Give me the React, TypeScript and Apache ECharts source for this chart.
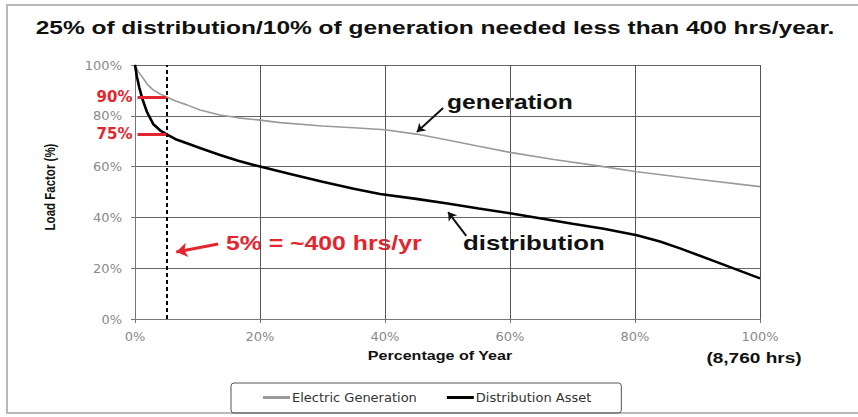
import React, { useEffect, useRef } from "react";
import * as echarts from "echarts";

// ---- data ----
const xTicks = [0, 20, 40, 60, 80, 100];
const yTicks = [0, 20, 40, 60, 80, 100];

const genX = [0, 0.5, 1.3, 2, 2.9, 4, 5, 6.5, 8.3, 10.4, 13.6, 16.5, 20, 23.2, 30, 35, 40, 45, 50, 55, 60, 67, 74.4, 80.3, 90, 100];
const genY = [100, 97.5, 94.8, 92.3, 90.2, 88.6, 87.5, 85.8, 84.3, 82.3, 80.3, 79.2, 78.3, 77.3, 76, 75.3, 74.5, 72.8, 70.5, 68, 65.6, 62.8, 60.2, 58, 55, 52.1];

const distX = [0, 0.3, 0.7, 1.2, 1.9, 2.9, 4, 5, 6.5, 8.3, 10.5, 13.6, 16.5, 20, 25, 30, 35, 39.2, 45, 50, 55, 60, 65, 70, 75, 80.3, 84, 87.2, 93, 100];
const distY = [100, 95.5, 91, 86.5, 81.6, 76.8, 74.3, 72.8, 70.8, 69.2, 67.2, 64.6, 62.3, 60, 57, 54, 51.3, 49.2, 47.3, 45.5, 43.5, 41.6, 39.6, 37.5, 35.5, 33, 30.5, 27.8, 22.5, 16];

const seriesNames = ["Electric Generation", "Distribution Asset"];

const markerX = 5; // 5% of year ~ 400 hrs
const genAt5 = 87.5;
const distAt5 = 72.8;
const genLabel = "90%";
const distLabel = "75%";

// arrows [fromX, fromY, toX, toY] in data units
const genArrow = [49.3, 83.1, 45.1, 73.6];
const distArrow = [53, 32.7, 50.1, 42.1];
const redArrow = [13.3, 29.5, 6.6, 26.4];

const title = "25% of distribution/10% of generation needed less than 400 hrs/year.";

const RED = "#e3262e";
const GRAY = "#9a9a9a";
const SANS = "'Liberation Sans', Arial, sans-serif";
const DEJAVU = "'DejaVu Sans', sans-serif";

function txt(text: string, x: number, y: number, size: number, sx: number, opts: any = {}) {
  return {
    type: "text",
    x,
    y,
    scaleX: sx,
    scaleY: opts.scaleY || 1,
    rotation: opts.rotation || 0,
    style: {
      text,
      fontSize: size,
      fontWeight: opts.weight || "bold",
      fontFamily: SANS,
      fill: opts.color || "#111",
      align: opts.align || "left",
      textAlign: opts.align || "left",
      verticalAlign: "middle",
      textVerticalAlign: "middle",
    },
    silent: true,
  };
}

function redLabel(text: string) {
  return {
    show: true,
    position: "start",
    formatter: text,
    color: RED,
    fontSize: 15,
    fontWeight: "bold",
    fontFamily: DEJAVU,
    distance: 5,
  };
}

export default function App() {
  const ref = useRef<HTMLDivElement>(null);

  useEffect(() => {
    if (!ref.current) return;
    const chart = echarts.init(ref.current, undefined, { renderer: "svg" });

    const gen = genX.map((x, i) => [x, genY[i]]);
    const dist = distX.map((x, i) => [x, distY[i]]);

    const option: any = {
      animation: false,
      backgroundColor: "#fff",
      grid: { left: 135, right: 98, top: 65, bottom: 98 },
      xAxis: {
        type: "value",
        min: 0,
        max: 100,
        interval: 20,
        axisLine: { show: true, lineStyle: { color: "#777", width: 1 } },
        axisTick: { show: true, length: 4, lineStyle: { color: "#777" } },
        axisLabel: {
          formatter: "{value}%",
          color: "#8a8a8a",
          fontSize: 13,
          fontFamily: DEJAVU,
          margin: 11,
          customValues: xTicks,
        },
        splitLine: { show: true, lineStyle: { color: "#555", width: 1 } },
      },
      yAxis: {
        type: "value",
        min: 0,
        max: 100,
        interval: 20,
        axisLine: { show: true, lineStyle: { color: "#777", width: 1 } },
        axisTick: { show: true, length: 4, lineStyle: { color: "#777" } },
        axisLabel: {
          formatter: "{value}%",
          color: "#8a8a8a",
          fontSize: 13,
          fontFamily: DEJAVU,
          margin: 13,
          customValues: yTicks,
        },
        splitLine: { show: true, lineStyle: { color: "#666", width: 1 } },
      },
      legend: {
        data: [
          { name: seriesNames[0], icon: "rect", itemStyle: { color: GRAY } },
          { name: seriesNames[1], icon: "rect", itemStyle: { color: "#000" } },
        ],
        left: 231,
        top: 383,
        orient: "horizontal",
        itemWidth: 27,
        itemHeight: 3,
        itemGap: 30,
        padding: [7, 30, 8, 32],
        borderColor: "#555",
        borderWidth: 1,
        borderRadius: 3,
        textStyle: { color: "#333", fontSize: 13, fontFamily: DEJAVU, padding: [0, 0, 0, -3], lineHeight: 15 },
      },
      series: [
        {
          name: seriesNames[0],
          type: "line",
          data: gen,
          smooth: false,
          showSymbol: false,
          symbol: "none",
          lineStyle: { color: GRAY, width: 1.6 },
          itemStyle: { color: GRAY },
          z: 3,
          markLine: {
            silent: true,
            symbol: ["none", "none"],
            animation: false,
            data: [
              [
                {
                  coord: [markerX, 0],
                  lineStyle: { color: "#000", width: 2, type: [4, 3] },
                  label: { show: false },
                },
                { coord: [markerX, 100] },
              ],
              [
                { coord: [0.4, genAt5], lineStyle: { color: RED, width: 3, type: "solid" }, label: redLabel(genLabel) },
                { coord: [markerX, genAt5] },
              ],
              [
                { coord: [0.4, distAt5], lineStyle: { color: RED, width: 3, type: "solid" }, label: redLabel(distLabel) },
                { coord: [markerX, distAt5] },
              ],
            ],
          },
        },
        {
          name: seriesNames[1],
          type: "line",
          data: dist,
          smooth: false,
          showSymbol: false,
          symbol: "none",
          lineStyle: { color: "#000", width: 2.6 },
          itemStyle: { color: "#000" },
          z: 4,
          markLine: {
            silent: true,
            symbol: ["none", "arrow"],
            animation: false,
            label: { show: false },
            data: [
              [
                { coord: [genArrow[0], genArrow[1]], lineStyle: { color: "#111", width: 2, type: "solid" }, symbolSize: 8 },
                { coord: [genArrow[2], genArrow[3]], symbolSize: 8 },
              ],
              [
                { coord: [distArrow[0], distArrow[1]], lineStyle: { color: "#111", width: 2, type: "solid" }, symbolSize: 8 },
                { coord: [distArrow[2], distArrow[3]], symbolSize: 8 },
              ],
              [
                { coord: [redArrow[0], redArrow[1]], lineStyle: { color: RED, width: 3, type: "solid" }, symbolSize: 11 },
                { coord: [redArrow[2], redArrow[3]], symbolSize: 11 },
              ],
            ],
          },
        },
      ],
      graphic: [
        {
          type: "rect",
          shape: { x: 7, y: 5, width: 870, height: 408 },
          style: { fill: "none", stroke: "#b8b8b8", lineWidth: 2 },
          silent: true,
          z: -10,
        },
        txt(title, 435, 28, 19, 1.29, { align: "center" }),
        txt("generation", 447, 102, 20, 1.23),
        txt("distribution", 463, 243, 20, 1.29),
        txt("5% = ~400 hrs/yr", 226, 243, 20, 1.24, { color: RED }),
        txt("Percentage of Year", 440, 356, 12, 1.34, { align: "center" }),
        txt("(8,760 hrs)", 754, 358, 14, 1.36, { align: "center" }),
        txt("Load Factor (%)", 50, 187, 11.5, 1, { align: "center", rotation: Math.PI / 2, scaleY: 1.3 }),
      ],
    };

    chart.setOption(option);
    return () => chart.dispose();
  }, []);

  return <div ref={ref} style={{ width: 858, height: 417, position: "absolute", left: 0, top: 0 }} />;
}
